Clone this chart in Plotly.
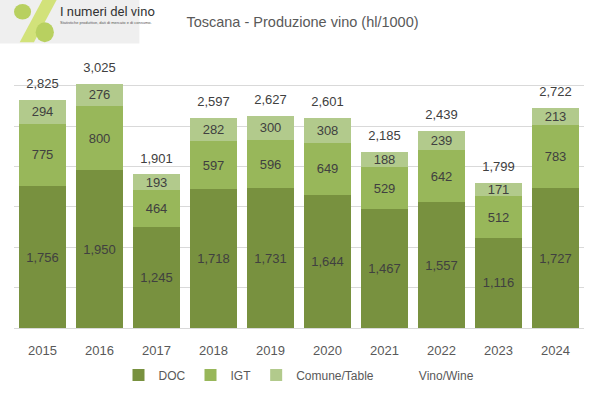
import plotly.graph_objects as go

years = ["2015", "2016", "2017", "2018", "2019", "2020", "2021", "2022", "2023", "2024"]
doc = [1756, 1950, 1245, 1718, 1731, 1644, 1467, 1557, 1116, 1727]
igt = [775, 800, 464, 597, 596, 649, 529, 642, 512, 783]
comune = [294, 276, 193, 282, 300, 308, 188, 239, 171, 213]
totale = [2825, 3025, 1901, 2597, 2627, 2601, 2185, 2439, 1799, 2722]

c_doc = "#78913F"
c_igt = "#98B75A"
c_com = "#B2CA8C"
txt = "#404040"
font = "Liberation Sans"

fig = go.Figure()
for name, vals, col in [("DOC", doc, c_doc), ("IGT", igt, c_igt), ("Comune/Table", comune, c_com)]:
    fig.add_trace(go.Bar(
        x=years, y=vals, name=name, marker=dict(color=col, line=dict(width=0)),
        text=[f"{v:,}" for v in vals], textposition="inside", insidetextanchor="middle",
        textfont=dict(color=txt, size=13, family=font), hoverinfo="skip",
    ))
fig.add_trace(go.Scatter(
    x=years, y=totale, name="Vino/Wine", mode="markers+text",
    marker=dict(size=12, color="rgba(0,0,0,0)"),
    text=[f"{v:,}" for v in totale], textposition="top center",
    textfont=dict(color=txt, size=13, family=font), cliponaxis=False, hoverinfo="skip",
))

fig.update_layout(
    width=599, height=394, barmode="stack", bargap=0.175,
    margin=dict(l=14, r=15, t=45, b=66, autoexpand=False),
    paper_bgcolor="white", plot_bgcolor="white",
    font=dict(family=font, color="#595959", size=13),
    title=dict(text="Toscana - Produzione vino (hl/1000)", x=0.505, xanchor="center",
               y=0.945, yanchor="middle", font=dict(size=14.5, color="#595959", family=font)),
    xaxis=dict(range=[-0.5, 9.5], showline=True, linecolor="#D9D9D9", linewidth=1,
               ticks="outside", ticklen=10, tickcolor="rgba(0,0,0,0)", automargin=False,
               tickfont=dict(size=13, color="#595959")),
    yaxis=dict(range=[0, 3503], dtick=500, showticklabels=False, gridcolor="#D9D9D9",
               gridwidth=1, zeroline=False, automargin=False),
    legend=dict(orientation="h", x=0.5, xanchor="center", yref="container", y=0.048,
                yanchor="middle", font=dict(size=12, color="#595959"), itemwidth=30,
                traceorder="normal"),
    uniformtext=dict(minsize=13, mode="show"),
)

# Logo area
fig.add_shape(type="rect", xref="paper", yref="paper", x0=-0.025, x1=0.22, y0=1.005, y1=1.16,
              fillcolor="#EFEFEF", line=dict(width=0), layer="below")
fig.add_shape(type="path", xref="paper", yref="paper",
              path="M 0.01 1.01 L 0.035 1.01 L 0.075 1.16 L 0.05 1.16 Z",
              fillcolor="#D2E27A", line=dict(width=0))
fig.add_shape(type="circle", xref="paper", yref="paper", x0=0.0, x1=0.03, y0=1.09, y1=1.145,
              fillcolor="#B8D060", line=dict(width=0))
fig.add_shape(type="circle", xref="paper", yref="paper", x0=0.038, x1=0.07, y0=1.01, y1=1.08,
              fillcolor="#B8D060", line=dict(width=0))
fig.add_annotation(xref="paper", yref="paper", x=0.078, y=1.12, xanchor="left", yanchor="middle",
                   text="I numeri del vino", showarrow=False,
                   font=dict(size=13, color="#333333", family="Roboto"))
fig.add_annotation(xref="paper", yref="paper", x=0.078, y=1.08, xanchor="left", yanchor="middle",
                   text="Statistiche produttive, dati di mercato e di consumo.", showarrow=False,
                   font=dict(size=4, color="#555555", family=font))

fig.write_html("out.html", config={"displayModeBar": False},
               post_script="document.body.style.margin='0';")
